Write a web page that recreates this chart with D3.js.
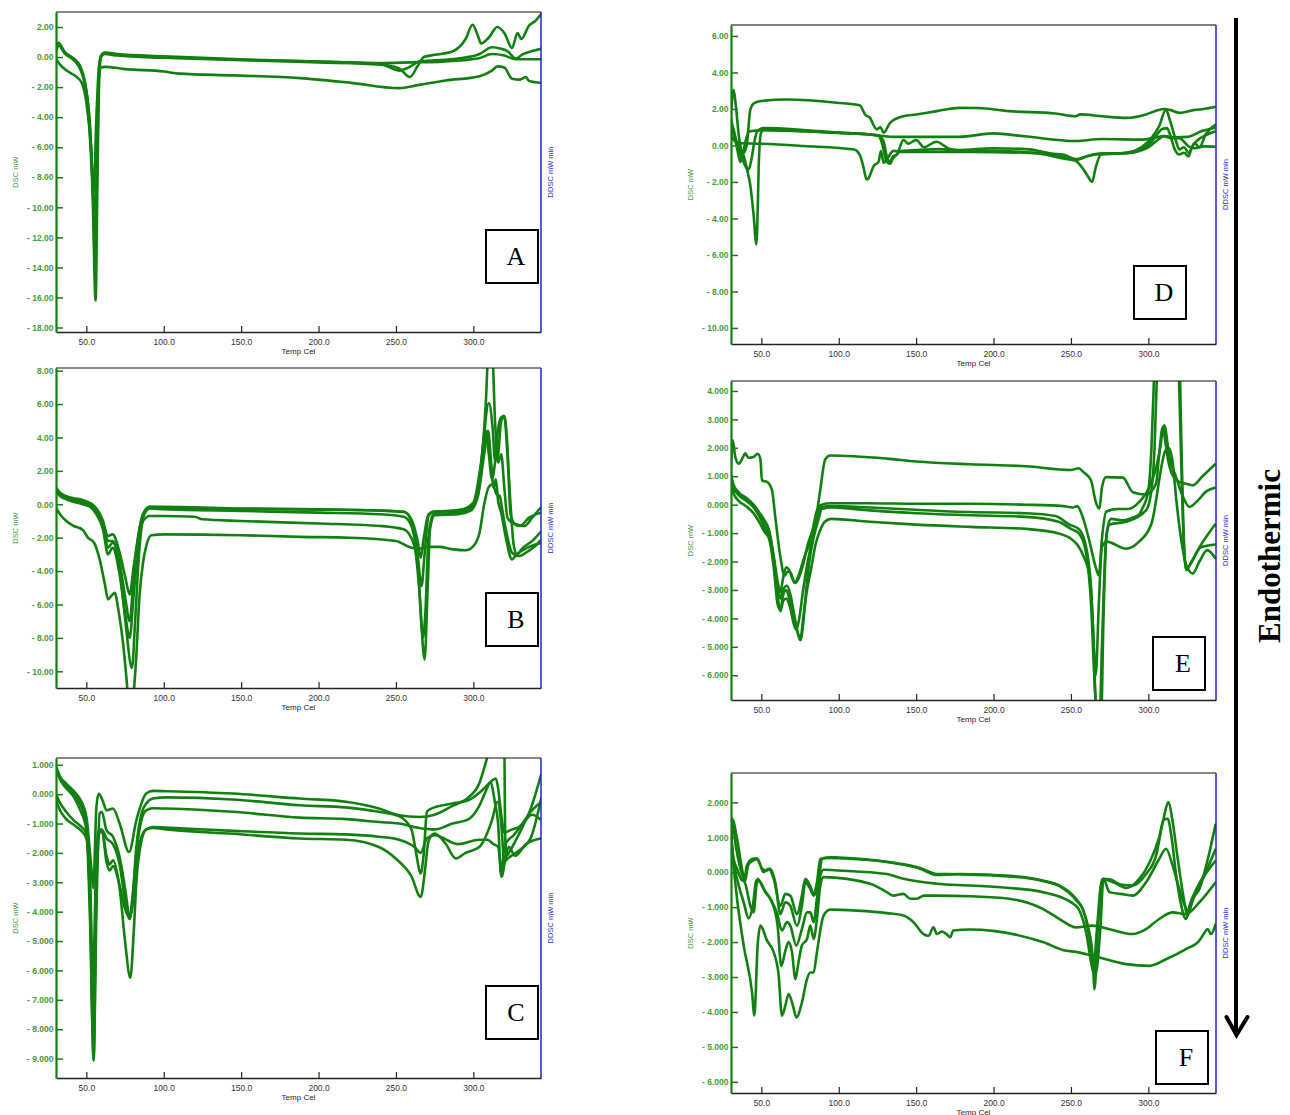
<!DOCTYPE html>
<html>
<head>
<meta charset="utf-8">
<script src="https://cdn.jsdelivr.net/npm/d3@7"></script>
<style>
  body { margin: 0; background: #fff; }
  svg { display: block; }
</style>
</head>
<body>
<svg id="chart" width="1290" height="1115"></svg>
<script>
// DSC thermograms, six panels (A-F), temperature in Cel vs DSC in mW
var tempDomain = [30.4, 343.7];
var tempTicks = [50, 100, 150, 200, 250, 300];

// y tick values for each panel
var ticksA = [2, 0, -2, -4, -6, -8, -10, -12, -14, -16, -18];
var ticksB = [8, 6, 4, 2, 0, -2, -4, -6, -8, -10];
var ticksC = [1, 0, -1, -2, -3, -4, -5, -6, -7, -8, -9];
var ticksD = [6, 4, 2, 0, -2, -4, -6, -8, -10];
var ticksE = [4, 3, 2, 1, 0, -1, -2, -3, -4, -5, -6];
var ticksF = [2, 1, 0, -1, -2, -3, -4, -5, -6];

// curves: [temp, mW]
var curvesA = [
  [[30.4,0.3],[32,0.85],[36,0.3],[42,-0.2],[46,-0.8],[49,-1.8],[51.5,-4],[54,-9],[56,-16.2],[57.2,-8],[58.3,-1.5],[59.5,0],[62,0.25],[70,0.15],[100,0],[150,-0.2],[200,-0.35],[240,-0.5],[252,-0.75],[259,-1.33],[264,-0.6],[268,0],[275,0.15],[286,0.35],[295,1.2],[299.5,2.15],[303,1.4],[305,0.9],[310,1.3],[315.5,2.0],[320,1.6],[325,0.6],[328.5,1.6],[331,1.2],[336,2.1],[340,2.4],[344,2.9]],
  [[30.4,0.6],[32,0.95],[36,0.35],[42,-0.1],[46,-0.6],[49,-1.6],[51.5,-3.5],[54,-8],[55.8,-14],[57,-7],[58.2,-1],[59.5,0.1],[62,0.3],[70,0.2],[100,0.05],[150,-0.15],[200,-0.3],[240,-0.45],[252,-0.9],[258,-0.7],[265,-0.3],[270,-0.25],[290,-0.1],[304,0.2],[312,0.65],[318,0.55],[322,0.4],[327.5,-0.1],[332,0.2],[338,0.4],[344,0.55]],
  [[30.4,0.4],[32,0.8],[36,0.25],[42,-0.2],[46,-0.7],[49,-1.7],[52,-4],[54.8,-9],[56.5,-4],[58,-0.8],[59.5,0.05],[62,0.2],[70,0.1],[100,-0.05],[150,-0.2],[200,-0.3],[240,-0.4],[260,-0.35],[280,-0.3],[303,-0.1],[312,0.2],[320,0.1],[327.5,-0.15],[344,-0.15]],
  [[30.4,-0.1],[33,-0.5],[37.3,-0.9],[43.8,-1.33],[47,-1.7],[50,-3],[53,-6],[55.5,-11],[56.8,-6],[58,-1.5],[59.5,-0.7],[62,-0.65],[75,-0.8],[100,-0.96],[110,-1.1],[145,-1.22],[188,-1.4],[220,-1.7],[252,-2.07],[265,-1.85],[282,-1.56],[304,-1.27],[312,-0.9],[315.6,-0.62],[320,-0.7],[325,-1.44],[330,-1.5],[334,-1.33],[336,-1.6],[344,-1.73]]
];

var curvesB = [
  [[30.4,0.95],[33,0.6],[40,0.35],[47.8,0.2],[53,0.0],[56.5,-0.3],[60.8,-1.1],[64,-1.9],[67,-1.8],[71.5,-2.9],[75,-4.3],[78,-5.4],[80.5,-3.8],[83,-2.2],[86.6,-0.6],[91,-0.15],[100,-0.2],[150,-0.28],[200,-0.32],[240,-0.38],[255,-0.45],[260,-0.9],[264,-2.2],[266,-3.2],[268,-2.0],[271,-0.6],[274,-0.45],[290,-0.35],[299,-0.1],[304,1.5],[308,6],[310,9.5],[312,9.5],[314,5],[316,2.5],[318,3.0],[320,1.0],[322,-0.8],[325,-1.1],[329.6,-1.25],[333,-1.3],[338,-0.8],[344,-0.15]],
  [[30.4,1.0],[33,0.7],[40,0.4],[47.8,0.25],[53,0.05],[56.5,-0.25],[60.8,-1.0],[64,-2.2],[67,-2.2],[71.5,-3.5],[75,-5.5],[78,-7.0],[80.5,-4.5],[83,-2.3],[86.6,-0.6],[91,-0.15],[100,-0.15],[150,-0.25],[200,-0.3],[240,-0.38],[255,-0.45],[260,-1.0],[264,-3.0],[266.5,-4.9],[268.5,-3.0],[271,-0.7],[274,-0.45],[290,-0.4],[300,0.1],[305,2.5],[310,6.06],[312.5,4.5],[314,2.6],[316,3.0],[318,5.0],[320,5.26],[322,3.0],[324,0.0],[326,-2.4],[328,-3.0],[332,-2.6],[338,-2.2],[344,-1.6]],
  [[30.4,0.8],[33,0.5],[40,0.2],[47.8,0.0],[53,-0.2],[56.5,-0.6],[60.8,-1.5],[64,-3.0],[67,-2.6],[71.5,-4.2],[75,-6.5],[78,-8.0],[80.5,-5.5],[83,-3.0],[86.6,-1.0],[91,-0.7],[100,-0.7],[120,-0.75],[125,-0.9],[150,-1.0],[200,-1.15],[240,-1.3],[255,-1.5],[262,-2.5],[265,-5],[268.5,-9.3],[270.5,-5],[272,-1.5],[275,-0.65],[290,-0.6],[298,-0.4],[303,0.5],[307,3.0],[309.5,4.4],[311.5,2.5],[313,1.0],[314.5,1.5],[316,0.2],[318,-0.5],[321,-2.0],[325,-3.3],[328,-3.0],[335,-2.6],[344,-2.3]],
  [[30.4,-0.2],[33,-0.6],[37,-1.0],[42,-1.3],[47.8,-1.55],[51,-2.0],[55,-2.3],[58.6,-3.3],[62,-4.8],[64,-5.7],[66,-5.5],[68.3,-5.3],[71,-6.5],[73.7,-8.3],[76,-10.5],[77,-11.5],[80,-11.5],[82,-9.5],[84.4,-5.4],[86.6,-3.5],[88.7,-2.5],[92,-1.85],[100,-1.8],[150,-1.85],[188,-1.95],[220,-2.0],[250,-2.2],[260,-2.6],[266,-2.65],[270,-2.55],[278,-2.55],[287,-2.7],[295,-2.75],[300,-2.5],[304,-1.7],[307,0.0],[310,1.05],[312.5,1.2],[315,0.6],[317,0.5],[319,-0.5],[321,-1.5],[325,-2.9],[329.6,-3.1],[334,-2.9],[340,-2.5],[344,-2.1]],
  [[30.4,0.9],[33,0.6],[40,0.3],[47.8,0.1],[53,-0.1],[56.5,-0.5],[60.8,-1.3],[64,-2.6],[67,-2.3],[71.5,-3.8],[75,-6.8],[79.5,-9.8],[81.5,-7],[84,-3],[87,-0.7],[91,-0.25],[100,-0.3],[150,-0.4],[200,-0.5],[240,-0.6],[255,-0.75],[260,-1.3],[264,-3.5],[267.5,-8.0],[269,-6.5],[271,-2.0],[274,-0.6],[290,-0.5],[299,-0.2],[304,1.6],[308,4.4],[310,3.0],[312,1.5],[314,2.5],[316,4.5],[318,5.2],[320,5.3],[322,3.5],[324,-0.6],[327,-1.2],[330,-1.3],[336,-0.8],[344,-0.5]]
];

var curvesC = [
  [[30.4,0.95],[33,0.6],[37,0.36],[42,0.1],[45.7,-0.15],[50,-0.77],[53.2,-2.5],[54.5,-3.2],[56.5,-0.43],[58,0.02],[60.8,-0.26],[63,-0.55],[67.2,-0.49],[71.5,-1.0],[77.6,-1.97],[82.3,-0.89],[88.7,0.02],[93,0.11],[101.7,0.1],[144.7,0.02],[187.8,-0.15],[217.7,-0.26],[239,-0.49],[252,-0.72],[265,-0.78],[275,-0.7],[286.5,-0.4],[297,-0.1],[303.8,0.36],[306.5,0.8],[309,1.25],[311,1.6],[318,1.6],[320,1.5],[320.6,-1.5],[321.5,-2.1],[324,-1.9],[330,-1.3],[337,-0.5],[344,0.7]],
  [[30.4,0.9],[33,0.55],[37,0.3],[42,0.0],[45.7,-0.3],[50,-1.0],[52.5,-4],[54.7,-9.07],[56.5,-4],[58.6,-0.66],[60,-0.6],[63,-1.23],[67.2,-1.45],[71.5,-2.14],[75,-3.2],[78,-4.18],[80,-3.5],[82.3,-1.8],[86,-0.6],[88.7,-0.32],[93,-0.15],[101.7,-0.11],[144.7,-0.18],[187.8,-0.38],[217.7,-0.45],[239,-0.6],[252,-0.75],[260,-1.2],[263,-2.0],[266,-2.7],[268,-2.0],[270,-0.6],[272.5,-0.5],[286.5,-0.32],[297,-0.2],[305,0.1],[310,0.35],[314.5,0.53],[316,0.2],[318,-0.7],[320,-1.3],[325,-1.2],[330,-1.1],[337,-0.6],[344,-0.26]],
  [[30.4,0.85],[33,0.5],[37,0.2],[42,-0.1],[45.7,-0.5],[50,-1.2],[52.5,-4.5],[54.3,-8.2],[56,-4],[58.6,-1.3],[60.5,-1.25],[63,-1.5],[67.2,-1.7],[71.5,-2.4],[75,-3.6],[78,-4.25],[80,-3.4],[82.3,-2.0],[86,-0.8],[88.7,-0.55],[93,-0.48],[101.7,-0.49],[144.7,-0.6],[187.8,-0.8],[217.7,-0.85],[239,-0.95],[252,-1.0],[265,-1.15],[275,-1.2],[286.5,-1.0],[297,-0.85],[303.8,-0.4],[308,0.1],[311,0.4],[314,-0.3],[316,-1.0],[318,-2.8],[320,-1.8],[322,-1.6],[326,-1.4],[332,-1.0],[338,-0.7],[344,-0.89]],
  [[30.4,0.0],[33,-0.3],[37,-0.6],[42,-0.9],[45.7,-1.06],[50,-1.34],[52.5,-3],[54.3,-6.5],[56,-3],[57.5,-1.3],[60,-1.25],[63,-2.1],[65,-2.4],[67.2,-2.25],[71.5,-3.2],[75,-5.0],[78.4,-6.25],[80.5,-4.8],[82.3,-3.0],[86,-1.5],[88.7,-1.2],[93,-1.12],[101.7,-1.14],[144.7,-1.25],[187.8,-1.34],[217.7,-1.37],[239,-1.45],[252,-1.55],[262,-1.8],[266,-2.0],[270,-1.5],[275,-1.4],[290,-1.7],[303.8,-1.55],[309,-1.55],[313,-1.7],[316,-1.8],[318.5,-2.8],[320,-2.4],[323,-1.8],[327,-2.1],[334,-1.7],[344,-1.5]],
  [[30.4,-0.2],[33,-0.55],[37,-0.85],[42,-1.05],[45.7,-1.2],[50,-1.5],[52.5,-3.5],[54.7,-8.9],[56.5,-3],[58,-1.25],[60,-1.2],[63,-2.3],[65,-2.6],[67.2,-2.45],[71.5,-3.1],[75,-3.9],[78,-4.2],[80.5,-3.5],[82.3,-2.3],[86,-1.4],[88.7,-1.2],[93,-1.15],[101.7,-1.2],[144.7,-1.35],[187.8,-1.51],[217.7,-1.55],[239,-1.8],[250,-2.2],[260,-2.8],[266,-3.5],[269,-2.48],[271,-1.6],[275,-1.34],[282,-1.68],[288.7,-2.19],[295,-2.0],[303.8,-1.8],[312,-0.89],[315.6,-0.26],[318,-1.0],[320,-2.3],[322,-2.2],[330,-1.9],[337,-1.5],[344,-0.1]]
];

var curvesD = [
  [[30.4,1.8],[31.2,2.6],[32.1,3.05],[33.5,2.2],[35.5,0.5],[37,-0.2],[38.6,-0.4],[40.5,0.0],[42.9,1.97],[45,2.3],[49.4,2.43],[66.6,2.52],[98.8,2.34],[113.9,2.19],[115.5,1.95],[117,1.7],[120.3,1.5],[122,1.2],[124.6,0.88],[127,1.0],[129,0.7],[133.2,1.24],[141.8,1.6],[150,1.7],[163.4,1.88],[178,2.06],[190,2.05],[210,1.88],[240,1.75],[253,1.6],[256,1.7],[270,1.6],[285.6,1.51],[298.5,1.7],[305,1.9],[310.3,2.0],[314,1.95],[320,1.79],[330,1.95],[336,2.0],[343.5,2.12]],
  [[30.4,1.3],[32,0.9],[34,0.2],[36,-0.4],[38.5,-0.9],[40.5,-1.25],[41.8,-1.31],[43.5,-0.8],[45.5,0.2],[47.2,0.75],[51.5,0.95],[77,0.85],[100,0.7],[120,0.6],[135,0.47],[178,0.47],[199.6,0.66],[220,0.5],[253,0.24],[270,0.35],[296,0.32],[303,0.4],[310.3,0.51],[318,0.45],[325,0.47],[335,0.8],[343.5,0.97]],
  [[30.4,1.5],[32,0.7],[34,0.0],[36.4,-0.91],[38,-0.5],[40,0.3],[42,0.75],[45,0.8],[51.5,0.85],[77.3,0.78],[100,0.68],[120.3,0.6],[126,0.55],[129,0.2],[131,-0.58],[133,-0.9],[135,-0.6],[137.5,-0.5],[141.8,0.3],[145,0.1],[150,0.3],[155,-0.1],[163,0.2],[172,-0.2],[178,-0.25],[199.6,-0.15],[221,-0.2],[242.6,-0.58],[253.3,-0.86],[258,-1.3],[261,-1.7],[263.7,-2.0],[266,-1.2],[269.5,-0.5],[285.6,-0.4],[296.4,-0.05],[302,0.4],[307,1.06],[311.4,1.97],[313.5,1.5],[315.7,0.88],[318,0.2],[320,-0.22],[323,-0.1],[326,-0.4],[330,0.1],[333,-0.1],[337,0.6],[343.5,1.15]],
  [[30.4,1.1],[33,0.4],[36,-0.2],[38.6,-0.58],[41,-1.4],[42.9,-2.2],[45,-3.8],[46.8,-5.42],[47.8,-3.0],[48.3,-1.1],[49.8,0.7],[51.5,0.84],[77.3,0.78],[100,0.7],[120.3,0.6],[126,0.5],[128,0.1],[131,-0.9],[133.2,-1.0],[135,-0.7],[137.5,-0.5],[140,-0.3],[150,-0.25],[165,-0.2],[178,-0.3],[200,-0.3],[230,-0.45],[253.3,-0.8],[260,-0.6],[270,-0.45],[285.6,-0.42],[296.4,-0.2],[303,0.3],[309,0.9],[312,0.95],[314,0.6],[317,-0.2],[320,-0.5],[323,-0.4],[326,-0.6],[328,-0.1],[332,0.3],[338,0.6],[343.5,0.78]],
  [[30.4,0.5],[32,0.3],[34,0.2],[36.5,0.12],[42.9,0.11],[77.3,-0.03],[110,-0.22],[113.9,-0.58],[116,-1.2],[118,-1.86],[119.2,-1.8],[122.5,-1.13],[125.7,-0.9],[127.2,-0.31],[129,-0.95],[131,-0.77],[135.4,-0.3],[141.8,-0.36],[185,-0.36],[220,-0.4],[245,-0.5],[253,-0.75],[262,-0.55],[270,-0.45],[285.6,-0.42],[300,-0.1],[306,0.3],[310,0.5],[315,0.4],[320,0.4],[326,-0.05],[330,-0.15],[336,-0.05],[343.5,-0.07]]
];

var curvesE = [
  [[30.4,1.3],[31.5,2.26],[33.2,1.67],[35.4,1.44],[37.5,1.6],[39.7,1.81],[41.5,1.65],[45,1.68],[47.6,1.79],[49.4,1.6],[50.4,0.85],[53.7,0.8],[56.9,0.5],[59,-0.43],[62.3,-1.84],[65,-2.5],[67,-2.35],[69,-2.4],[71.5,-2.75],[74,-2.5],[78,-1.8],[81.6,-1.3],[85,-0.6],[88,0.5],[91.3,1.6],[94.5,1.73],[131,1.62],[150,1.52],[185,1.42],[221,1.35],[250,1.22],[255,1.28],[258,1.15],[263,0.85],[266,0.1],[268.4,-0.14],[270,0.6],[272.7,0.97],[283.5,0.95],[290,0.44],[298.5,0.36],[305,0.74],[307,1.79],[309.3,2.73],[311,2.2],[313,1.5],[316,1.0],[320,0.8],[324.3,0.74],[328.6,0.68],[335,1.0],[343.5,1.44]],
  [[30.4,1.1],[32,0.7],[36,0.4],[40,0.25],[45,0.0],[49,-0.3],[52,-0.55],[55,-0.9],[58,-1.8],[60.5,-2.7],[62.3,-3.07],[64,-2.6],[66,-2.2],[68,-2.3],[70,-2.6],[72,-2.75],[74,-2.6],[77,-2.1],[80,-1.4],[83,-0.9],[86,-0.2],[89,0.0],[95,0.05],[120,0.05],[150,0.03],[185,0.03],[221,0.0],[245,-0.05],[251,-0.1],[254,-0.05],[258,-0.5],[262,-1.3],[266,-2.2],[268,-2.48],[270,-1.2],[272.7,-0.25],[280,-0.15],[287,-0.15],[294,0.09],[300.7,0.62],[305,1.3],[307,1.79],[310.3,2.79],[313.6,1.67],[317.9,0.97],[322.2,0.3],[326.5,-0.08],[332,0.15],[337,0.45],[343.5,0.6]],
  [[30.4,0.9],[32,0.6],[36,0.3],[40,0.15],[45,-0.1],[49,-0.45],[52,-0.8],[55,-1.1],[58,-2.0],[60.5,-3.2],[62.3,-3.75],[64,-3.4],[66,-3.3],[68.5,-3.6],[71,-4.2],[72.6,-4.4],[74.5,-4.0],[77,-3.0],[80,-2.0],[83,-1.2],[86,-0.4],[89,-0.1],[95,-0.05],[120,-0.1],[150,-0.18],[185,-0.26],[221,-0.3],[240,-0.4],[249,-0.7],[255,-0.85],[259,-1.3],[263,-2.9],[265,-5.5],[266.5,-7.5],[268.5,-7.5],[270,-5],[272.7,-1.25],[275,-0.7],[285.6,-0.6],[298.5,-0.2],[302,0.5],[304,2.0],[305.5,4.5],[307,8],[319,8],[321,3],[322.5,-0.5],[324.3,-2.3],[327,-2.1],[333,-1.5],[343.5,-0.67]],
  [[30.4,1.0],[32,0.65],[36,0.35],[40,0.2],[45,-0.05],[49,-0.35],[52,-0.65],[55,-0.95],[58,-1.9],[60.5,-2.9],[62.3,-3.3],[64,-3.0],[66.5,-2.85],[68.5,-3.1],[71,-3.8],[73.5,-4.5],[75.2,-4.77],[77,-4.2],[79,-3.0],[81,-2.0],[84,-1.1],[87,-0.5],[89,-0.15],[95,-0.1],[120,-0.2],[150,-0.3],[185,-0.37],[221,-0.43],[242,-0.6],[250,-0.85],[255,-1.0],[259,-1.5],[263,-3.5],[265.5,-6.5],[267,-7.5],[269.5,-7.5],[271,-4],[273,-1.0],[276,-0.5],[283,-0.55],[290,-0.45],[294,-0.35],[296,-0.15],[300,0.5],[302,2],[304,5],[306,8],[318,8],[320,4],[321.5,1.0],[323,-1.5],[324.6,-2.3],[328,-2.0],[334,-1.5],[343.5,-1.4]],
  [[30.4,0.7],[32,0.4],[36,0.1],[40,-0.05],[45,-0.3],[49,-0.65],[52,-0.95],[55,-1.2],[58,-2.2],[60.5,-3.5],[62.3,-3.7],[64,-3.2],[66,-3.0],[68.5,-3.4],[71,-4.0],[73,-4.4],[75.2,-4.75],[77,-4.0],[79.5,-3.0],[82,-2.3],[85,-1.4],[88,-0.9],[91,-0.6],[95,-0.5],[120,-0.6],[150,-0.7],[185,-0.78],[221,-0.85],[242.6,-1.02],[250,-1.2],[254.4,-1.43],[258,-1.8],[262,-2.5],[264,-4],[266,-6.0],[268,-3.5],[270,-1.5],[273,-1.3],[285.6,-1.55],[294,-1.3],[302,-0.67],[311,1.9],[313,2.0],[315.7,1.5],[318,0.2],[322,-1.5],[324.3,-2.1],[328.6,-2.42],[333,-2.0],[338,-1.6],[343.5,-1.9]]
];

var curvesF = [
  [[30.4,0.7],[31.1,1.53],[34.3,0.96],[37.5,0.1],[39,-0.19],[40.7,0.19],[44,0.38],[46.8,0.4],[49.4,0.2],[51.5,0.0],[54.7,0.1],[58,-0.19],[62.3,-0.96],[65.5,-0.62],[68.7,-0.67],[73,-1.2],[76.2,-0.67],[78.4,-0.19],[81.6,-0.4],[83.8,-0.62],[85.9,-0.3],[88.1,0.38],[92.4,0.41],[100,0.4],[131,0.29],[152.6,0.1],[163.4,-0.08],[178,-0.05],[210,-0.1],[231.8,-0.24],[242.6,-0.38],[253.3,-0.76],[257.6,-1.05],[260.9,-1.53],[264,-2.39],[265.2,-3.35],[267.5,-1.5],[270.6,-0.19],[275,-0.2],[282,-0.35],[289.9,-0.38],[298.5,-0.05],[305,0.48],[309.3,1.43],[313.1,2.0],[315.5,1.5],[319,0.38],[322.2,-0.57],[325.4,-1.24],[328.6,-0.77],[333,-0.48],[338,0.3],[343.5,1.39]],
  [[30.4,0.9],[31.5,1.35],[33.5,0.75],[36.5,0.1],[39.5,-0.26],[41.5,0.2],[44.5,0.33],[47.6,0.38],[50.4,0.1],[53.7,0.05],[55.8,0.1],[59,-0.29],[62.3,-1.2],[65.5,-0.86],[68.7,-0.96],[73,-1.53],[76.2,-0.96],[78.4,-0.29],[81.6,-0.48],[83.8,-0.67],[87,-0.29],[89.1,0.38],[94.5,0.43],[100,0.42],[131,0.3],[152.6,0.12],[163.4,-0.05],[178,-0.06],[210,-0.12],[231.8,-0.25],[242.6,-0.4],[253.3,-0.8],[258,-1.1],[262,-1.9],[264.5,-2.87],[266.5,-1.8],[270.2,-0.2],[278,-0.3],[286,-0.45],[294,-0.2],[301,0.3],[307,1.0],[310,1.5],[312.5,1.53],[315,1.0],[318,-0.1],[321,-0.9],[324.3,-1.34],[327,-0.9],[332,-0.4],[337,0.0],[343.5,0.67]],
  [[30.4,1.2],[32,0.4],[34.3,0.1],[37,-0.2],[39.3,-0.29],[42.9,-0.96],[45,-1.15],[46.8,-0.38],[47.6,-0.19],[51.5,-0.48],[55.8,-0.76],[60,-1.15],[63.3,-1.67],[66.6,-1.43],[68.7,-1.53],[72.6,-2.1],[76.2,-1.63],[79.5,-1.15],[81.6,-1.15],[83.8,-1.43],[85.9,-0.76],[88.1,-0.1],[90.2,0.07],[100,0.05],[131,-0.05],[141.8,-0.19],[163.4,-0.33],[184.9,-0.38],[210,-0.45],[231.8,-0.57],[253.3,-0.96],[259.8,-1.72],[264,-2.77],[266,-2.9],[269,-1.6],[271,-0.19],[274.9,-0.57],[282,-0.62],[289.9,-0.67],[298.5,-0.29],[307,0.38],[311.4,0.67],[315.7,0.19],[320,-0.48],[323,-0.9],[326,-1.1],[329,-0.77],[335,-0.2],[343.5,0.33]],
  [[30.4,1.0],[32,0.3],[34.3,-0.19],[38.6,-0.86],[41.8,-1.32],[44.5,-0.96],[46.8,-0.24],[49.4,-0.29],[52.6,-0.57],[56.9,-0.86],[60.5,-1.53],[62.9,-2.68],[65.5,-2.25],[67.6,-2.0],[69.8,-2.29],[72,-3.06],[74,-2.58],[76.2,-2.1],[79.5,-1.91],[81.6,-1.53],[83.8,-1.91],[85.9,-1.34],[88.1,-0.38],[90.2,-0.14],[120.3,-0.33],[131,-0.57],[135,-0.67],[141.8,-0.62],[146.2,-0.76],[150.5,-0.76],[155,-0.67],[163.4,-0.67],[184.9,-0.69],[210,-0.76],[231.8,-1.05],[242.6,-1.34],[253.3,-1.58],[264,-1.53],[274.9,-1.63],[289.9,-1.77],[298.5,-1.63],[307,-1.34],[315.7,-1.15],[324.3,-1.2],[333,-0.86],[343.5,-0.29]],
  [[30.4,1.0],[32,0.2],[34.3,-0.76],[38.6,-2.1],[44,-3.44],[45.5,-4.1],[47.6,-2.1],[49.4,-1.53],[53.7,-1.96],[58,-2.29],[61.2,-2.96],[63.3,-4.11],[65.5,-3.82],[67.6,-3.49],[70.4,-3.82],[72.6,-4.16],[76.2,-3.73],[79.5,-3.06],[81.6,-2.87],[83.8,-2.87],[85.9,-2.29],[90.2,-1.24],[94.5,-1.07],[111.7,-1.1],[131,-1.17],[141.8,-1.24],[148.3,-1.43],[154.8,-1.77],[158,-1.82],[161.2,-1.58],[163.4,-1.77],[166.6,-1.7],[169.5,-1.77],[172,-1.86],[174,-1.67],[184.9,-1.64],[199.6,-1.68],[231.8,-2.0],[246.9,-2.25],[253.3,-2.28],[264,-2.39],[285.6,-2.63],[300.7,-2.68],[311.4,-2.49],[324.3,-2.2],[332.9,-1.96],[336,-1.75],[338.3,-1.63],[340.5,-1.77],[343.5,-1.48]]
];

// layout of each panel (pixel frame, y range, label box)
var panels = [
  {id: "A", curves: curvesA, ticks: ticksA, digits: 2, yDomain: [-18.3, 3.0],  left: 56,  top: 12,  width: 485, height: 320, box: [486, 230], frame: "#111"},
  {id: "B", curves: curvesB, ticks: ticksB, digits: 2, yDomain: [-11.0, 8.16], left: 56,  top: 368, width: 485, height: 320, box: [486, 593], frame: "#111"},
  {id: "C", curves: curvesC, ticks: ticksC, digits: 3, yDomain: [-9.66, 1.23], left: 56,  top: 758, width: 485, height: 320, box: [486, 986], frame: "#111"},
  {id: "D", curves: curvesD, ticks: ticksD, digits: 2, yDomain: [-10.88, 6.6], left: 731, top: 25,  width: 485, height: 319, box: [1134, 266], frame: "#808080"},
  {id: "E", curves: curvesE, ticks: ticksE, digits: 3, yDomain: [-6.87, 4.35], left: 731, top: 381, width: 485, height: 319, box: [1153, 637], frame: "#111"},
  {id: "F", curves: curvesF, ticks: ticksF, digits: 3, yDomain: [-6.32, 2.84], left: 731, top: 773, width: 485, height: 320, box: [1156, 1031], frame: "#111"}
];

var svg = d3.select("#chart");
var defs = svg.append("defs");
var lineGreen = "#118011",
    labelGreen = "#3d9b3d";

panels.forEach(function(p) {
  var w = p.width, h = p.height;
  var x = d3.scaleLinear().domain(tempDomain).range([0, w]);
  var y = d3.scaleLinear().domain(p.yDomain).range([h, 0]);
  var g = svg.append("g").attr("transform", "translate(" + p.left + "," + p.top + ")");

  defs.append("clipPath").attr("id", "clip-" + p.id)
    .append("rect").attr("width", w).attr("height", h);

  var line = d3.line()
      .x(function(d) { return x(d[0]); })
      .y(function(d) { return y(d[1]); })
      .curve(d3.curveMonotoneX);

  g.append("g")
      .attr("clip-path", "url(#clip-" + p.id + ")")
    .selectAll("path")
    .data(p.curves)
    .enter().append("path")
      .attr("d", line)
      .attr("fill", "none")
      .attr("stroke", lineGreen)
      .attr("stroke-width", 2.6)
      .attr("stroke-linejoin", "round");

  // frame: top and right borders
  g.append("line").attr("x1", 0).attr("x2", w).attr("y1", 0).attr("y2", 0)
      .attr("stroke", p.frame).attr("stroke-width", p.id === "D" ? 2 : 1.2);
  g.append("line").attr("x1", w).attr("x2", w).attr("y1", 0).attr("y2", h)
      .attr("stroke", "#2020d0").attr("stroke-width", 1.5);

  var xAxis = g.append("g")
      .attr("transform", "translate(0," + h + ")")
      .call(d3.axisBottom(x)
          .tickValues(tempTicks)
          .tickSizeInner(-6)
          .tickSizeOuter(0)
          .tickPadding(6.5)
          .tickFormat(d3.format(".1f")));
  xAxis.select(".domain").attr("stroke", "#222").attr("stroke-width", 1.5);
  xAxis.selectAll(".tick line").attr("stroke", "#222").attr("stroke-width", 1.2);
  xAxis.selectAll("text")
      .attr("fill", "#333")
      .style("font", "8.5px 'Liberation Sans', Arial, sans-serif");

  var fmt = function(v) {
    return (v < 0 ? "- " : "") + Math.abs(v).toFixed(p.digits);
  };
  var yAxis = g.append("g")
      .call(d3.axisLeft(y)
          .tickValues(p.ticks)
          .tickSizeInner(-7)
          .tickSizeOuter(0)
          .tickPadding(2.5)
          .tickFormat(fmt));
  yAxis.select(".domain").attr("stroke", lineGreen).attr("stroke-width", 2.2);
  yAxis.selectAll(".tick line").attr("stroke", lineGreen).attr("stroke-width", 1.5);
  yAxis.selectAll("text")
      .attr("fill", labelGreen)
      .style("font", "bold 8.5px 'Liberation Sans', Arial, sans-serif");

  // axis titles
  g.append("text")
      .attr("transform", "translate(-38," + (h / 2) + ") rotate(-90)")
      .attr("text-anchor", "middle")
      .attr("fill", labelGreen)
      .style("font", "7.5px 'Liberation Sans', Arial, sans-serif")
      .text("DSC mW");
  g.append("text")
      .attr("transform", "translate(" + (w + 12) + "," + (h / 2) + ") rotate(-90)")
      .attr("text-anchor", "middle")
      .attr("fill", "#2a2ae0")
      .style("font", "7.5px 'Liberation Sans', Arial, sans-serif")
      .text("DDSC mW min");
  g.append("text")
      .attr("x", w / 2)
      .attr("y", h + 21.5)
      .attr("text-anchor", "middle")
      .attr("fill", "#222")
      .style("font", "8px 'Liberation Sans', Arial, sans-serif")
      .text("Temp Cel");

  // panel letter box
  var b = svg.append("g").attr("transform", "translate(" + p.box[0] + "," + p.box[1] + ")");
  b.append("rect")
      .attr("width", 52).attr("height", 53)
      .attr("fill", "#fff")
      .attr("stroke", "#000")
      .attr("stroke-width", 2);
  b.append("text")
      .attr("x", 30).attr("y", 35)
      .attr("text-anchor", "middle")
      .style("font", "26px 'Liberation Serif', 'Times New Roman', serif")
      .text(p.id);
});

// endothermic arrow on the right
var arrow = svg.append("g").attr("stroke", "#000").attr("stroke-width", 4).attr("fill", "none");
arrow.append("line").attr("x1", 1236).attr("x2", 1236).attr("y1", 18).attr("y2", 1034);
arrow.append("path")
    .attr("d", "M1226.5,1017 L1236.5,1035 L1247.5,1017")
    .attr("stroke-linecap", "round")
    .attr("stroke-linejoin", "miter");

svg.append("text")
    .attr("transform", "translate(1280,556) rotate(-90)")
    .attr("text-anchor", "middle")
    .style("font", "bold 31px 'Liberation Serif', 'Times New Roman', serif")
    .text("Endothermic");
</script>
</body>
</html>
